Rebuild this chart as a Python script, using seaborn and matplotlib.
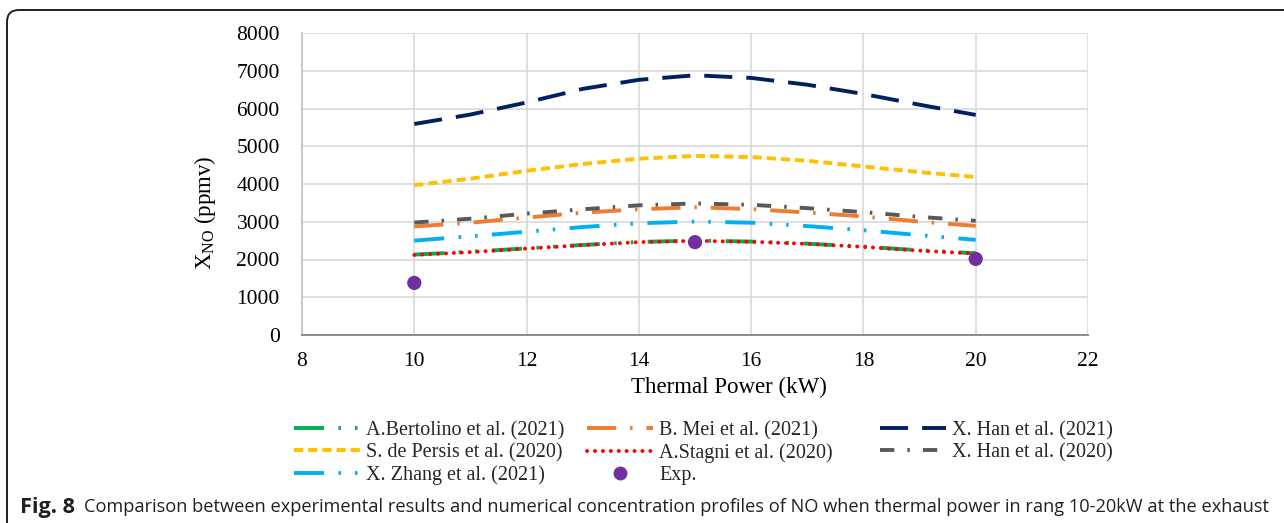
import matplotlib
matplotlib.use("Agg")
import matplotlib.pyplot as plt
from matplotlib.lines import Line2D
from matplotlib.patches import FancyBboxPatch
from matplotlib.transforms import IdentityTransform
import seaborn as sns

# Thermal power (kW) at which the model profiles are evaluated
power = [10, 11, 12, 13, 14, 15, 16, 17, 18, 19, 20]

# NO mole fraction (ppmv) predicted by each kinetic mechanism
bertolino_2021 = [2130, 2205, 2295, 2385, 2465, 2500, 2475, 2420, 2340, 2245, 2165]
mei_2021 = [2875, 2975, 3110, 3240, 3330, 3385, 3335, 3245, 3140, 3005, 2890]
han_2021 = [5590, 5840, 6160, 6520, 6760, 6880, 6810, 6630, 6385, 6100, 5830]
persis_2020 = [3970, 4140, 4350, 4530, 4670, 4745, 4715, 4615, 4465, 4315, 4185]
stagni_2020 = [2120, 2195, 2290, 2380, 2460, 2495, 2470, 2415, 2335, 2235, 2155]
han_2020 = [2980, 3080, 3215, 3330, 3435, 3485, 3450, 3360, 3255, 3130, 3025]
zhang_2021 = [2500, 2615, 2735, 2860, 2960, 3005, 2975, 2885, 2775, 2645, 2520]

# Measured values
exp_power = [10, 15, 20]
exp_no = [1380, 2460, 2015]

x_ticks = [8, 10, 12, 14, 16, 18, 20, 22]
y_ticks = [0, 1000, 2000, 3000, 4000, 5000, 6000, 7000, 8000]

caption_head = "Fig. 8"
caption_body = ("Comparison between experimental results and numerical concentration "
                "profiles of NO when thermal power in rang 10-20kW at the exhaust")

sns.set_theme(style="white")
plt.rcParams["font.family"] = ["Liberation Serif", "DejaVu Serif"]
plt.rcParams["mathtext.fontset"] = "custom"
plt.rcParams["mathtext.rm"] = "Liberation Serif"
plt.rcParams["mathtext.it"] = "Liberation Serif:italic"
plt.rcParams["lines.scale_dashes"] = False

W, H = 1284, 523
fig = plt.figure(figsize=(W / 100, H / 100), dpi=100)
fig.patch.set_facecolor("white")
ax = fig.add_axes([302 / W, 1 - 335 / H, (1088 - 302) / W, (335 - 33) / H])

LW = 2.8
# (label, values, colour, dash sequence in points, cap style)
series = [
    ("A.Bertolino et al. (2021)", bertolino_2021, "#00B050", (21.6, 10.4, 1.8, 10.1, 1.8, 10.4), "butt"),
    ("B. Mei et al. (2021)", mei_2021, "#ED7D31", (21.0, 10.0, 1.8, 10.0), "butt"),
    ("X. Han et al. (2021)", han_2021, "#002060", (20.2, 10.1), "butt"),
    ("S. de Persis et al. (2020)", persis_2020, "#FFC000", (6.6, 3.6), "butt"),
    ("A.Stagni et al. (2020)", stagni_2020, "#FF0000", (0.1, 5.6), "round"),
    ("X. Han et al. (2020)", han_2020, "#595959", (10.3, 9.4, 1.8, 9.4), "butt"),
    ("X. Zhang et al. (2021)", zhang_2021, "#00B0F0", (21.6, 10.4, 1.8, 10.1, 1.8, 10.4), "butt"),
]

handles = []
labels = []
for name, vals, color, dash, cap in series:
    sns.lineplot(x=power, y=vals, ax=ax, color=color, linewidth=LW, zorder=3)
    ln = ax.lines[-1]
    ln.set_dashes(dash)
    ln.set_dash_capstyle(cap)
    handles.append(Line2D([], [], color=color, linewidth=LW, dashes=dash, dash_capstyle=cap))
    labels.append(name)

exp_color = "#7030A0"
sns.scatterplot(x=exp_power, y=exp_no, ax=ax, color=exp_color, s=105,
                edgecolor="none", zorder=5, legend=False)
handles.append(Line2D([], [], linestyle="none", marker="o", markersize=10,
                      markerfacecolor=exp_color, markeredgecolor="none"))
labels.append("Exp.")

ax.set_xlim(8, 22)
ax.set_ylim(0, 8000)
ax.set_xticks(x_ticks)
ax.set_yticks(y_ticks)
ax.set_xticklabels([str(v) for v in x_ticks])
ax.set_yticklabels([str(v) for v in y_ticks])
ax.grid(True, color="#d9d9d9", linewidth=1.2)
ax.set_axisbelow(True)
for side in ("top", "right"):
    ax.spines[side].set_visible(False)
ax.spines["left"].set_color("#bfbfbf")
ax.spines["left"].set_linewidth(1.1)
ax.spines["bottom"].set_color("#8c8c8c")
ax.spines["bottom"].set_linewidth(1.4)
ax.tick_params(axis="x", length=6, width=1.1, color="#8c8c8c", direction="out",
               pad=6, labelsize=15.5, labelcolor="black")
ax.tick_params(axis="y", length=0, pad=16, labelsize=15.5, labelcolor="black")

ax.set_xlabel("Thermal Power (kW)", fontsize=16.5, color="black")
ax.xaxis.set_label_coords(0.543, -0.14)
ax.set_ylabel(r"X$_{\mathrm{NO}}$ (ppmv)", fontsize=16.5, color="black")
ax.yaxis.set_label_coords(-0.107, 0.404)

# Legend laid out as three equally spaced columns, filled row by row
columns = [[0, 3, 6], [1, 4, 7], [2, 5]]
col_x = [293.6, 586.6, 879.6]
for idx, x0 in zip(columns, col_x):
    fig.legend([handles[i] for i in idx], [labels[i] for i in idx],
               loc="upper left", bbox_to_anchor=(x0 / W, 1 - 421 / H),
               frameon=False, fontsize=14.5, handlelength=3.3, handletextpad=0.3,
               labelspacing=0.14, borderpad=0.0, borderaxespad=0.0)

# Rounded frame around the figure panel
frame = FancyBboxPatch((7, -30), W + 40, H - 10 + 30,
                       boxstyle="round,pad=0,rounding_size=12",
                       transform=IdentityTransform(), facecolor="none",
                       edgecolor="#231f20", linewidth=1.4, zorder=0)
fig.add_artist(frame)

# Caption
cap_family = ["Liberation Sans Narrow", "Open Sans", "DejaVu Sans"]
cap_y = 1 - 507 / H
renderer = fig.canvas.get_renderer()
head = fig.text(20 / W, cap_y, caption_head, fontsize=14, fontweight="bold",
                family=cap_family, va="center", ha="left", color="#231f20")
hw = head.get_window_extent(renderer).width
head.set_fontsize(14 * 55 / hw)
body = fig.text(84 / W, cap_y, caption_body, fontsize=14, family=cap_family,
                va="center", ha="left", color="#231f20")
bw = body.get_window_extent(renderer).width
body.set_fontsize(14 * (1279 - 84) / bw)

fig.savefig("out.png", dpi=100, facecolor="white")
